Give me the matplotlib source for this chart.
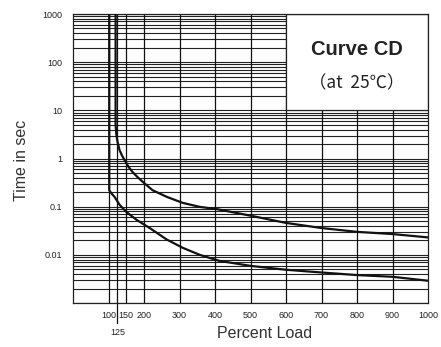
import numpy as np
import matplotlib
matplotlib.use("Agg")
import matplotlib.pyplot as plt
from matplotlib.patches import Rectangle
import matplotlib.transforms as mtransforms

# Dados (percentual de carga x tempo em segundos)
upper_x = [120, 120, 122, 125, 131, 138, 145, 156, 168, 182, 196, 224, 264, 309, 357, 405, 500, 600, 700, 800, 900, 1000]
upper_y = [1000, 5.0, 3.2, 2.3, 1.5, 1.15, 0.93, 0.68, 0.52, 0.41, 0.33, 0.22, 0.16, 0.12, 0.099, 0.089, 0.065, 0.046, 0.036, 0.030, 0.027, 0.023]

lower_x = [102, 102, 108, 117, 131, 150, 178, 216, 263, 309, 357, 412, 500, 600, 700, 800, 900, 1000]
lower_y = [1000, 0.22, 0.19, 0.16, 0.11, 0.078, 0.054, 0.036, 0.021, 0.014, 0.010, 0.0075, 0.0059, 0.0049, 0.0043, 0.0038, 0.0035, 0.0029]

x_grid = [100, 125, 150, 200, 300, 400, 500, 600, 700, 800, 900]
x_ticks = [100, 150, 200, 300, 400, 500, 600, 700, 800, 900, 1000]
x_labels = ["100", "150", "200", "300", "400", "500", "600", "700", "800", "900", "1000"]
y_ticks = [0.01, 0.1, 1, 10, 100, 1000]
y_labels = ["0.01", "0.1", "1", "10", "100", "1000"]

fig = plt.figure(figsize=(4.41, 3.47), dpi=100)
ax = fig.add_axes([73 / 441, 1 - 303 / 347, 355 / 441, 289 / 347])
ax.set_yscale("log")
ax.set_xlim(0, 1000)
ax.set_ylim(0.001, 1000)

# Grade horizontal (décadas e subdivisões)
h_lines = [m * 10.0**e for e in range(-3, 3) for m in range(1, 10)] + [1000]
ax.hlines(h_lines, 0, 1000, colors="#222222", linewidth=0.8, zorder=1)
ax.vlines(x_grid, 0.001, 1000, colors="#111111", linewidth=0.9, zorder=1)

# Caixa do título
ax.add_patch(Rectangle((600, 10), 400, 990, facecolor="white",
                       edgecolor="#222222", linewidth=0.9, zorder=2))

ax.plot(upper_x, upper_y, color="#111111", linewidth=1.6, zorder=3)
ax.plot(lower_x, lower_y, color="#111111", linewidth=1.6, zorder=3)

ax.text(800, 180, "Curve CD", fontsize=14.5, fontweight="bold",
        family="Liberation Sans", ha="center", va="center", zorder=4, color="#222222")
ax.text(800, 36, "（at  25℃）", fontsize=12.5, family=["Noto Sans CJK JP", "DejaVu Sans"],
        ha="center", va="center", zorder=4, color="#222222")

ax.set_xticks(x_ticks)
ax.set_xticklabels(x_labels, fontsize=6.5, family="Liberation Sans", color="#222222")
ax.set_yticks(y_ticks)
ax.set_yticklabels(y_labels, fontsize=6.5, family="Liberation Sans", color="#222222")
ax.yaxis.set_minor_locator(matplotlib.ticker.NullLocator())
ax.tick_params(length=0)
ax.tick_params(axis="y", pad=8)
ax.tick_params(axis="x", pad=6)

# linha e rótulo do 125
trans = mtransforms.blended_transform_factory(ax.transData, ax.transAxes)
ax.plot([125, 125], [0, -0.068], transform=trans, color="#111111",
        linewidth=0.9, clip_on=False)
ax.text(125, -0.085, "125", transform=trans, fontsize=6.5, family="Liberation Sans",
        ha="center", va="top", color="#222222")

for s in ax.spines.values():
    s.set_linewidth(0.9)
    s.set_color("#222222")

fig.text(22 / 441, 1 - 160 / 347, "Time in sec", rotation=90, fontsize=11.5,
         family="Liberation Sans", ha="center", va="center", color="#333333")
fig.text(265 / 441, 1 - 333 / 347, "Percent Load", fontsize=11.5,
         family="Liberation Sans", ha="center", va="center", color="#333333")

fig.savefig("out.png", dpi=100)
